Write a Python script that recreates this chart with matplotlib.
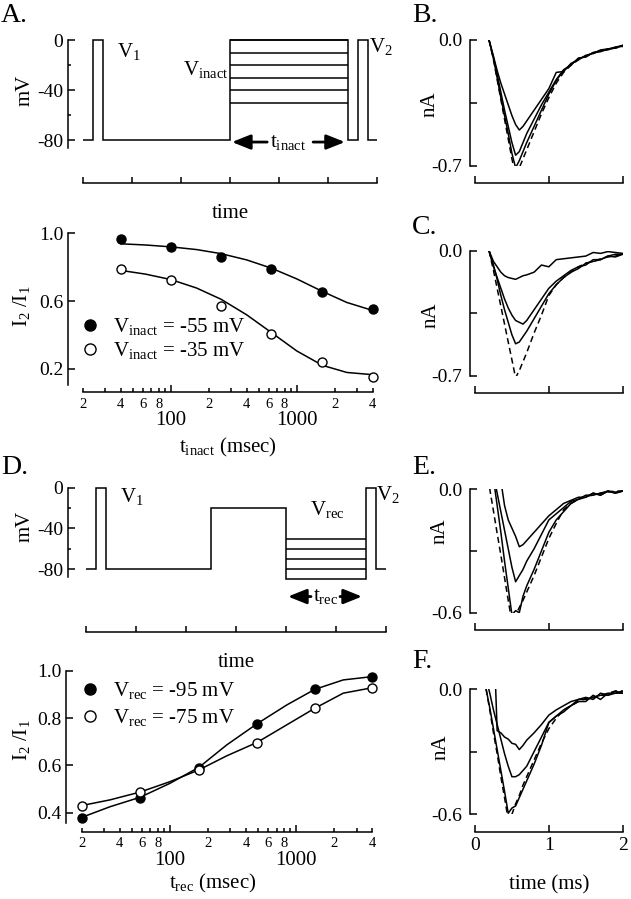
import numpy as np
import matplotlib
matplotlib.use("Agg")
import matplotlib.pyplot as plt
from matplotlib.ticker import FixedLocator, FixedFormatter, FuncFormatter, NullLocator
from matplotlib.lines import Line2D

plt.rcParams['font.family'] = ['Liberation Serif', 'DejaVu Serif']
plt.rcParams['mathtext.fontset'] = 'custom'
plt.rcParams['mathtext.rm'] = 'Liberation Serif'
plt.rcParams['mathtext.it'] = 'Liberation Serif:italic'
plt.rcParams['axes.linewidth'] = 1.1

nan = np.nan

# ---------------- data ----------------
# A: inactivation protocol (time units, mV)
proto_a_edges = [0, 0.2, 0.4, 3.0, 5.42, 5.62, 5.83, 6.0]
proto_a_levels = [-80, 0, -80, 0, -80, 0, -80]
vinact_levels = [0, -10, -20, -30, -40, -50]

# A: I2/I1 vs t_inact
inact_t = [40, 100, 250, 625, 1600, 4000]
inact_55 = [0.965, 0.921, 0.859, 0.788, 0.651, 0.551]
inact_35 = [0.788, 0.725, 0.572, 0.408, 0.241, 0.155]
inact_fit_t = [40, 63, 100, 160, 250, 400, 630, 1000, 1600, 2500, 4000]
inact_fit_55 = [0.938, 0.931, 0.920, 0.904, 0.880, 0.843, 0.794, 0.731, 0.657, 0.592, 0.545]
inact_fit_35 = [0.781, 0.759, 0.727, 0.677, 0.611, 0.519, 0.414, 0.306, 0.221, 0.179, 0.166]

# D: recovery protocol
proto_d_edges = [0, 0.2, 0.4, 2.49, 4.0, 5.6, 5.81, 6.0]
proto_d_levels = [-80, 0, -80, -20, -90, 0, -80]
vrec_levels = [-50, -60, -70, -80]

# D: I2/I1 vs t_rec
rec_t = [20, 58, 170, 490, 1400, 4000]
rec_95 = [0.379, 0.463, 0.590, 0.773, 0.921, 0.975]
rec_75 = [0.430, 0.489, 0.580, 0.696, 0.841, 0.928]
rec_curve_t = [20, 33.5, 58, 100, 170, 281, 490, 840, 1400, 2355, 4000]
rec_curve_95 = [0.380, 0.425, 0.465, 0.524, 0.592, 0.686, 0.776, 0.855, 0.921, 0.961, 0.975]
rec_curve_75 = [0.430, 0.454, 0.487, 0.531, 0.581, 0.640, 0.697, 0.771, 0.841, 0.905, 0.928]

# current traces (ms, nA)
t_bc = [0.19, 0.25, 0.30, 0.35, 0.40, 0.45, 0.50, 0.55, 0.60, 0.65, 0.70, 0.80,
        0.90, 1.00, 1.10, 1.20, 1.30, 1.40, 1.50, 1.60, 1.70, 1.80, 1.90, 2.00]
b_ctrl = [0, -0.11, -0.22, -0.33, -0.44, -0.55, -0.66, -0.755, -0.71, -0.66, -0.61, -0.51,
          -0.41, -0.32, -0.24, -0.18, -0.14, -0.11, -0.09, -0.075, -0.06, -0.05, -0.045, -0.035]
b_1 = [0, -0.10, -0.21, -0.32, -0.42, -0.52, -0.63, -0.71, -0.67, -0.62, -0.57, -0.48,
       -0.39, -0.30, -0.225, -0.17, -0.135, -0.105, -0.09, -0.07, -0.065, -0.05, -0.045, -0.03]
b_2 = [0, -0.10, -0.19, -0.29, -0.39, -0.48, -0.57, -0.64, -0.62, -0.57, -0.52, -0.44,
       -0.36, -0.29, -0.22, -0.165, -0.14, -0.10, -0.095, -0.07, -0.06, -0.055, -0.04, -0.035]
b_3 = [0, -0.09, -0.17, -0.24, -0.30, -0.36, -0.42, -0.47, -0.50, -0.48, -0.45, -0.39,
       -0.33, -0.27, -0.18, -0.175, -0.13, -0.11, -0.085, -0.075, -0.055, -0.05, -0.04, -0.03]

c_ctrl = [0, -0.11, -0.21, -0.31, -0.41, -0.51, -0.61, -0.71, -0.67, -0.62, -0.57, -0.46,
          -0.36, -0.25, -0.19, -0.15, -0.12, -0.09, -0.07, -0.06, -0.045, -0.035, -0.03, -0.02]
c_1 = [0, -0.08, -0.16, -0.25, -0.33, -0.40, -0.47, -0.52, -0.51, -0.48, -0.45, -0.38,
       -0.31, -0.24, -0.19, -0.15, -0.12, -0.10, -0.07, -0.06, -0.05, -0.03, -0.035, -0.02]
c_2 = [0, -0.09, -0.15, -0.21, -0.27, -0.32, -0.36, -0.39, -0.40, -0.41, -0.39, -0.33,
       -0.27, -0.21, -0.17, -0.14, -0.11, -0.09, -0.08, -0.05, -0.05, -0.03, -0.02, -0.02]
c_3 = [0, -0.06, -0.09, -0.12, -0.14, -0.15, -0.155, -0.16, -0.15, -0.14, -0.135, -0.12,
       -0.08, -0.09, -0.05, -0.045, -0.04, -0.035, -0.03, -0.01, -0.015, -0.005, -0.01, -0.015]

t_ef = [0.15, 0.20, 0.25, 0.30, 0.35, 0.40, 0.45, 0.50, 0.55, 0.60, 0.65, 0.70, 0.80,
        0.90, 1.00, 1.10, 1.20, 1.30, 1.40, 1.50, 1.60, 1.70, 1.80, 1.90, 2.00]
e_ctrl = [0.1, 0.0, -0.107, -0.215, -0.32, -0.43, -0.54, -0.645, -0.61, -0.575, -0.54, -0.50, -0.42,
          -0.33, -0.24, -0.167, -0.10, -0.07, -0.05, -0.035, -0.03, -0.02, -0.015, -0.01, -0.01]
e_1 = [0.3, 0.2, 0.05, -0.08, -0.21, -0.35, -0.48, -0.61, -0.59, -0.60, -0.52, -0.47, -0.39,
       -0.30, -0.21, -0.15, -0.11, -0.07, -0.05, -0.04, -0.02, -0.03, -0.01, -0.02, -0.01]
e_2 = [0.25, 0.16, 0.07, -0.02, -0.11, -0.20, -0.29, -0.38, -0.45, -0.42, -0.39, -0.35, -0.29,
       -0.22, -0.15, -0.12, -0.09, -0.06, -0.05, -0.03, -0.03, -0.02, -0.01, -0.02, -0.01]
e_3 = [nan, nan, nan, 0.15, 0.04, -0.08, -0.15, -0.19, -0.23, -0.28, -0.27, -0.25, -0.21,
       -0.17, -0.13, -0.10, -0.07, -0.055, -0.04, -0.04, -0.02, -0.03, -0.01, -0.015, -0.01]

f_ctrl = [0, -0.10, -0.21, -0.31, -0.42, -0.52, -0.627, -0.60, -0.55, -0.51, -0.46, -0.42, -0.34,
          -0.26, -0.19, -0.14, -0.10, -0.08, -0.06, -0.045, -0.04, -0.03, -0.02, -0.01, -0.01]
f_1 = [0, -0.09, -0.19, -0.29, -0.39, -0.49, -0.595, -0.57, -0.56, -0.52, -0.48, -0.44, -0.36,
       -0.27, -0.16, -0.13, -0.11, -0.08, -0.06, -0.06, -0.03, -0.05, -0.02, -0.02, -0.01]
f_2 = [0.05, -0.02, -0.10, -0.17, -0.24, -0.31, -0.37, -0.42, -0.42, -0.41, -0.39, -0.37, -0.30,
       -0.23, -0.16, -0.13, -0.10, -0.08, -0.05, -0.05, -0.04, -0.03, -0.03, -0.02, -0.02]
f_3 = [nan, nan, 0.3, -0.20, -0.21, -0.23, -0.24, -0.26, -0.265, -0.29, -0.27, -0.245, -0.21,
       -0.17, -0.125, -0.10, -0.08, -0.06, -0.05, -0.04, -0.05, -0.02, -0.03, -0.01, -0.02]

# ---------------- figure ----------------
W, H = 631, 899
fig = plt.figure(figsize=(W / 100, H / 100), dpi=100)
LW = 1.1


def px_axes(left, top, right, bottom):
    return fig.add_axes([left / W, 1 - bottom / H, (right - left) / W, (bottom - top) / H])


def ftext(x, y, s, **kw):
    kw.setdefault('fontsize', 15)
    fig.text(x / W, 1 - y / H, s, **kw)


def style(ax, left_out, bottom_out):
    ax.spines['top'].set_visible(False)
    ax.spines['right'].set_visible(False)
    ax.spines['left'].set_position(('outward', left_out))
    ax.spines['bottom'].set_position(('outward', bottom_out))
    ax.patch.set_alpha(0)
    ax.tick_params(direction='in', width=LW, labelsize=14, length=5)
    ax.tick_params(which='minor', direction='in', width=LW, length=2.5)


def minor_fmt(v, pos):
    d = int(round(v / 10 ** np.floor(np.log10(v))))
    return str(d) if d in (2, 4, 6, 8) else ''


def log_axis(ax):
    ax.set_xscale('log')
    ax.set_xlim(20, 4000)
    ax.xaxis.set_major_locator(FixedLocator([100, 1000]))
    ax.xaxis.set_major_formatter(FixedFormatter(['100', '1000']))
    minors = [m * 10 ** e for e in (1, 2, 3) for m in range(2, 10) if 20 <= m * 10 ** e <= 4000]
    ax.xaxis.set_minor_locator(FixedLocator(minors))
    ax.xaxis.set_minor_formatter(FuncFormatter(minor_fmt))
    ax.tick_params(axis='x', which='major', length=5, pad=14, labelsize=15)
    ax.tick_params(axis='x', which='minor', length=3, pad=4, labelsize=10.5)
    ax.yaxis.set_minor_locator(NullLocator())


def protocol_ticks(ax):
    ax.set_xlim(0, 6)
    ax.set_xticks(range(7))
    ax.set_xticklabels([])
    ax.set_yticks([0, -40, -80])
    ax.set_yticklabels(['0', '-40', '-80'])
    ax.yaxis.set_minor_locator(FixedLocator([-20, -60]))
    ax.tick_params(axis='y', pad=3.5)
    ax.tick_params(axis='x', length=4)


# ---- A: protocol ----
axA = px_axes(83.3, 40, 376.7, 148.3)
style(axA, 11, 25)
axA.set_ylim(-86.6, 0)
protocol_ticks(axA)
axA.stairs(proto_a_levels, proto_a_edges, baseline=None, color='k', lw=LW, clip_on=False)
axA.hlines(vinact_levels, proto_a_edges[3], proto_a_edges[4], colors='k', lw=LW, clip_on=False)
arr = dict(arrowstyle='-|>,head_length=0.8,head_width=0.32', color='k', lw=2,
           shrinkA=0, shrinkB=0, mutation_scale=14)
axA.annotate('', xy=(3.04, -81.6), xytext=(3.76, -81.6), arrowprops=arr, annotation_clip=False)
axA.annotate('', xy=(5.35, -81.6), xytext=(4.70, -81.6), arrowprops=arr, annotation_clip=False)
axA.text(4.19, -81.6, r't$_{\rm inact}$', ha='center', va='center', fontsize=15)
ftext(117, 57, r'V$_1$', va='baseline')
ftext(228, 75, r'V$_{\rm inact}$', ha='right', va='baseline')
ftext(369, 52, r'V$_2$', va='baseline')
ftext(25, 90, 'mV', rotation=90, ha='center', va='center')
ftext(230, 218, 'time', ha='center', va='baseline')
ftext(1, 15, 'A.', va='center', fontsize=20)

# ---- A: inactivation curve ----
axA2 = px_axes(83, 233.3, 372.5, 385)
style(axA2, 10.8, 5)
log_axis(axA2)
axA2.set_ylim(0.105, 1.0)
axA2.set_yticks([0.2, 0.6, 1.0])
axA2.set_yticklabels(['0.2', '0.6', '1.0'])
axA2.tick_params(axis='y', pad=3.5)
axA2.plot(inact_fit_t, inact_fit_55, color='k', lw=LW, clip_on=False)
axA2.plot(inact_fit_t, inact_fit_35, color='k', lw=LW, clip_on=False)
axA2.plot(inact_t, inact_55, 'o', mfc='k', mec='k', ms=6.5, mew=1, clip_on=False, zorder=3)
axA2.plot(inact_t, inact_35, 'o', mfc='white', mec='k', ms=6.5, mew=1, clip_on=False, zorder=3)
hA = [Line2D([], [], ls='none', marker='o', mfc='k', mec='k', ms=8),
      Line2D([], [], ls='none', marker='o', mfc='white', mec='k', ms=8)]
axA2.legend(hA, [r'V$_{\rm inact}$ = -55 mV', r'V$_{\rm inact}$ = -35 mV'],
            loc='upper left', bbox_to_anchor=(80 / W, 1 - 316 / H), bbox_transform=fig.transFigure,
            frameon=False, fontsize=15, handlelength=1.0, handletextpad=0.6,
            labelspacing=0.15, borderpad=0, borderaxespad=0)
ftext(22, 306, r'I$_2$ /I$_1$', rotation=90, ha='center', va='center')
ftext(228, 452, r't$_{\rm inact}$ (msec)', ha='center', va='baseline')

# ---- D: protocol ----
axD = px_axes(86, 487.7, 386, 577.3)
style(axD, 13, 39.2)
axD.set_ylim(-88, 0)
protocol_ticks(axD)
axD.stairs(proto_d_levels, proto_d_edges, baseline=None, color='k', lw=LW, clip_on=False)
axD.hlines(vrec_levels, proto_d_edges[4], proto_d_edges[5], colors='k', lw=LW, clip_on=False)
axD.annotate('', xy=(4.04, -106.9), xytext=(4.50, -106.9), arrowprops=arr, annotation_clip=False)
axD.annotate('', xy=(5.52, -106.9), xytext=(5.08, -106.9), arrowprops=arr, annotation_clip=False)
axD.text(4.79, -106.9, r't$_{\rm rec}$', ha='center', va='center', fontsize=15)
ftext(120, 502, r'V$_1$', va='baseline')
ftext(310, 515, r'V$_{\rm rec}$', va='baseline')
ftext(376, 500, r'V$_2$', va='baseline')
ftext(25, 526, 'mV', rotation=90, ha='center', va='center')
ftext(236, 667, 'time', ha='center', va='baseline')
ftext(1, 468, 'D.', va='center', fontsize=20)

# ---- D: recovery curve ----
axD2 = px_axes(81.7, 670.7, 372.3, 823.3)
style(axD2, 11.3, 6)
log_axis(axD2)
axD2.set_ylim(0.355, 1.0)
axD2.set_yticks([0.4, 0.6, 0.8, 1.0])
axD2.set_yticklabels(['0.4', '0.6', '0.8', '1.0'])
axD2.tick_params(axis='y', pad=3.5)
axD2.plot(rec_curve_t, rec_curve_95, color='k', lw=LW, clip_on=False)
axD2.plot(rec_curve_t, rec_curve_75, color='k', lw=LW, clip_on=False)
axD2.plot(rec_t, rec_95, 'o', mfc='k', mec='k', ms=6.5, mew=1, clip_on=False, zorder=3)
axD2.plot(rec_t, rec_75, 'o', mfc='white', mec='k', ms=6.5, mew=1, clip_on=False, zorder=3)
axD2.legend(hA, [r'V$_{\rm rec}$ = -95 mV', r'V$_{\rm rec}$ = -75 mV'],
            loc='upper left', bbox_to_anchor=(80 / W, 1 - 680 / H), bbox_transform=fig.transFigure,
            frameon=False, fontsize=15, handlelength=1.0, handletextpad=0.6,
            labelspacing=0.3, borderpad=0, borderaxespad=0)
ftext(22, 740, r'I$_2$ /I$_1$', rotation=90, ha='center', va='center')
ftext(213, 888, r't$_{\rm rec}$ (msec)', ha='center', va='baseline')

# ---- B, C, E, F: current traces ----
panels = [
    ('B.', 40, 166, 12.2, -0.7, t_bc, b_ctrl, [b_1, b_2, b_3], 15, 430, 104),
    ('C.', 250.7, 376, 12.0, -0.7, t_bc, c_ctrl, [c_1, c_2, c_3], 228, 431, 315),
    ('E.', 489, 612.7, 12.5, -0.6, t_ef, e_ctrl, [e_1, e_2, e_3], 468, 440, 531),
    ('F.', 689, 814.3, 12.5, -0.6, t_ef, f_ctrl, [f_1, f_2, f_3], 662, 441, 747),
]
for letter, top, bottom, bout, vmin, tt, ctrl, traces, ly, nx, ny in panels:
    ax = px_axes(475, top, 622.7, bottom)
    style(ax, 3.6, bout)
    ax.set_xlim(0, 2)
    ax.set_ylim(vmin, 0)
    ax.set_yticks([0, vmin / 2, vmin])
    ax.set_yticklabels(['0.0', '', '%.1f' % vmin])
    ax.set_xticks([0, 1, 2])
    ax.tick_params(axis='y', pad=5.5)
    ax.tick_params(axis='x', length=5)
    if letter == 'F.':
        ax.set_xticklabels(['0', '1', '2'])
        ax.tick_params(axis='x', pad=4)
    else:
        ax.set_xticklabels([])
    ax.plot(tt, ctrl, color='k', lw=LW, ls=(0, (4, 2.5)))
    for tr in traces:
        ax.plot(tt, tr, color='k', lw=LW)
    ftext(412, ly, letter, va='center', fontsize=20)
    ftext(nx, ny, 'nA', rotation=90, ha='center', va='center')

ftext(549, 889, 'time (ms)', ha='center', va='baseline')

fig.savefig('out.png', dpi=100)
